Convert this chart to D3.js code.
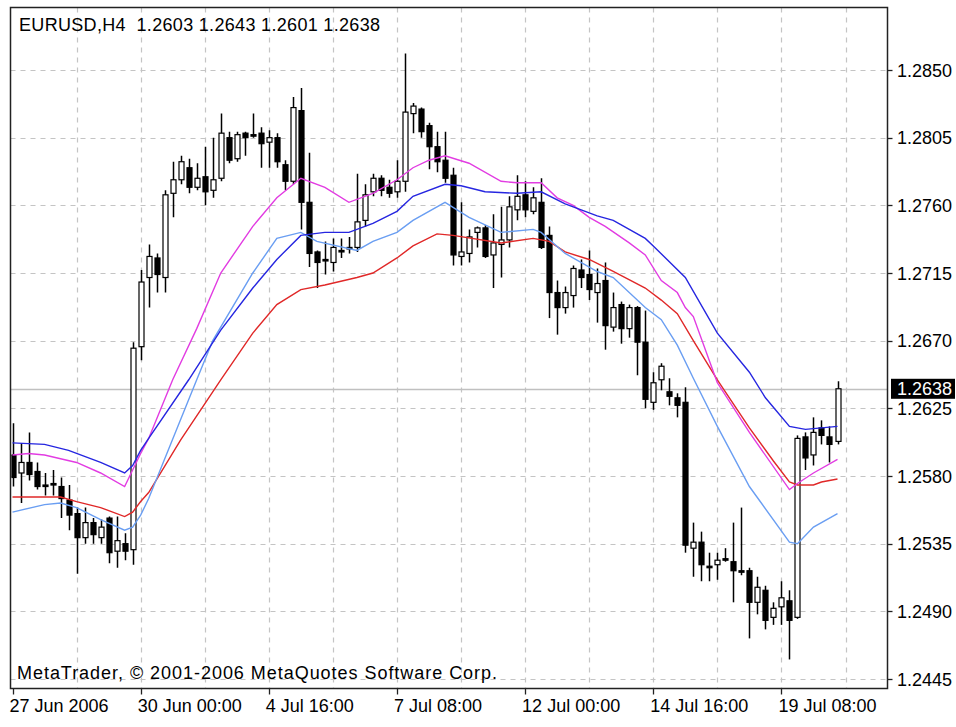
<!DOCTYPE html>
<html><head><meta charset="utf-8">
<script src="https://cdn.jsdelivr.net/npm/d3@7"></script>
<style>
html,body{margin:0;padding:0;background:#fff;}
svg{display:block;}
text{font-family:"Liberation Sans",Arial,sans-serif;font-size:18px;fill:#000;}
</style>
</head><body>
<svg id="chart" width="956" height="727"></svg>
<script>
// ---------------- DATA ----------------
const titleSymbol = "EURUSD,H4";
const copyrightText = "MetaTrader, \u00A9 2001-2006 MetaQuotes Software Corp.";

const barOpen = [1.2594,1.2582,1.2589,1.2583,1.2574,1.2575,1.2573,1.2564,1.2555,1.2539,1.2549,1.2539,1.2552,1.2530,1.2535,1.2531,
1.2666,1.2712,1.2725,1.2712,1.2768,1.2777,1.2785,1.2772,1.2779,1.2770,1.2778,1.2805,1.2791,1.2808,1.2807,1.2808,
1.2802,1.2805,1.2787,1.2776,1.2823,1.2762,1.2729,1.2724,1.2722,1.2730,1.2732,1.2732,1.2750,1.2769,1.2778,1.2772,
1.2769,1.2776,1.2821,1.2824,1.2813,1.2799,1.2790,1.2780,1.2726,1.2728,1.2742,1.2745,1.2727,1.2734,1.2737,1.2757,
1.2767,1.2756,1.2762,1.2740,1.2702,1.2692,1.2700,1.2717,1.2714,1.2702,1.2710,1.2679,1.2694,1.2678,1.2692,1.2669,
1.2629,1.2644,1.2636,1.2632,1.2629,1.2532,1.2536,1.2520,1.2521,1.2525,1.2523,1.2517,1.2517,1.2496,1.2504,1.2486,
1.2493,1.2497,1.2486,1.2606,1.2594,1.2612,1.2606,1.2603];
const barHigh = [1.2615,1.2602,1.2609,1.2589,1.2582,1.2584,1.2579,1.2574,1.2559,1.2559,1.2552,1.2551,1.2553,1.2553,1.2542,1.2669,
1.2717,1.2734,1.2728,1.2770,1.2789,1.2793,1.2791,1.2788,1.2799,1.2805,1.2821,1.2809,1.2809,1.2809,1.2821,1.2812,
1.2810,1.2808,1.2790,1.2832,1.2838,1.2795,1.2730,1.2736,1.2738,1.2738,1.2739,1.2781,1.2774,1.2781,1.2780,1.2777,
1.2790,1.2861,1.2828,1.2825,1.2815,1.2809,1.2809,1.2785,1.2762,1.2744,1.2746,1.2747,1.2754,1.2759,1.2766,1.2780,
1.2776,1.2772,1.2778,1.2746,1.2710,1.2706,1.2720,1.2724,1.2730,1.2718,1.2722,1.2702,1.2696,1.2694,1.2693,1.2690,
1.2649,1.2655,1.2645,1.2635,1.2639,1.2549,1.2543,1.2529,1.2529,1.2532,1.2549,1.2559,1.2519,1.2513,1.2507,1.2496,
1.2510,1.2504,1.2607,1.2609,1.2619,1.2617,1.2613,1.2643];
const barLow = [1.2573,1.2562,1.2577,1.2571,1.2567,1.2567,1.2552,1.2544,1.2515,1.2535,1.2535,1.2535,1.2522,1.2519,1.2524,1.2521,
1.2657,1.2692,1.2702,1.2702,1.2752,1.2774,1.2768,1.2770,1.2760,1.2765,1.2776,1.2788,1.2789,1.2793,1.2805,1.2785,
1.2785,1.2785,1.2770,1.2774,1.2744,1.2719,1.2705,1.2714,1.2716,1.2725,1.2728,1.2729,1.2746,1.2766,1.2766,1.2765,
1.2765,1.2769,1.2808,1.2805,1.2784,1.2782,1.2775,1.2720,1.2720,1.2722,1.2732,1.2725,1.2705,1.2712,1.2732,1.2750,
1.2752,1.2754,1.2731,1.2685,1.2674,1.2688,1.2692,1.2705,1.2697,1.2682,1.2664,1.2676,1.2668,1.2672,1.2647,1.2625,
1.2624,1.2637,1.2627,1.2619,1.2529,1.2513,1.2510,1.2510,1.2511,1.2523,1.2496,1.2514,1.2472,1.2488,1.2478,1.2481,
1.2481,1.2458,1.2485,1.2584,1.2587,1.2601,1.2589,1.2601];
const barClose = [1.2579,1.2589,1.2581,1.2573,1.2573,1.2574,1.2565,1.2554,1.2539,1.2549,1.2541,1.2546,1.2529,1.2537,1.2530,1.2665,
1.2709,1.2726,1.2714,1.2767,1.2777,1.2789,1.2772,1.2778,1.2769,1.2777,1.2808,1.2790,1.2807,1.2805,1.2806,1.2801,
1.2805,1.2789,1.2776,1.2825,1.2762,1.2728,1.2722,1.2723,1.2732,1.2729,1.2731,1.2749,1.2767,1.2778,1.2770,1.2768,
1.2776,1.2822,1.2826,1.2809,1.2799,1.2789,1.2778,1.2727,1.2729,1.2739,1.2745,1.2726,1.2735,1.2737,1.2759,1.2766,
1.2757,1.2765,1.2732,1.2702,1.2692,1.2702,1.2718,1.2712,1.2704,1.2708,1.2680,1.2692,1.2678,1.2692,1.2669,1.2631,
1.2642,1.2653,1.2633,1.2627,1.2534,1.2536,1.2521,1.2519,1.2524,1.2524,1.2517,1.2516,1.2496,1.2506,1.2484,1.2492,
1.2499,1.2484,1.2605,1.2592,1.2609,1.2607,1.2601,1.2638];

// moving averages: [bar index, price]
const maBlue = [[0,1.2602],[4,1.2601],[7,1.2597],[11,1.2589],[14,1.2582],[15,1.2587],[16,1.2597],[17,1.2605],[22,1.2644],[26,1.2677],[30,1.2705],[33,1.2724],[36,1.2740],[39,1.2742],[42,1.2742],[45,1.2748],[48,1.2756],[50,1.2766],[54,1.2774],[56,1.2773],[59,1.2769],[63,1.2768],[66,1.2769],[69,1.2761],[73,1.2753],[75,1.2750],[79,1.2738],[80,1.2733],[84,1.2712],[88,1.2675],[92,1.2649],[94,1.2632],[97,1.2613],[99,1.2611],[103,1.2613]];
const maMagenta = [[0,1.2594],[2,1.2595],[4,1.2594],[8,1.2589],[11,1.2582],[14,1.2573],[15,1.2584],[16,1.2595],[17,1.2605],[20,1.2644],[23,1.2678],[26,1.2715],[30,1.2746],[33,1.2765],[36,1.2778],[39,1.2772],[42,1.2762],[45,1.2768],[48,1.2777],[50,1.2785],[52,1.2790],[54,1.2793],[57,1.2788],[61,1.2776],[63,1.2775],[66,1.2775],[68,1.2765],[70,1.2760],[72,1.2752],[74,1.2746],[77,1.2735],[79,1.2727],[81,1.2710],[83,1.2702],[84,1.2692],[85,1.2686],[88,1.2642],[92,1.2609],[97,1.2571],[98,1.2575],[100,1.2582],[103,1.2591]];
const maLightBlue = [[0,1.2556],[4,1.2561],[6,1.2562],[8,1.2559],[11,1.2551],[14,1.2544],[15,1.2546],[16,1.2554],[17,1.2565],[23,1.2644],[25,1.2670],[30,1.2715],[33,1.2738],[36,1.2742],[38,1.2736],[43,1.2730],[45,1.2736],[48,1.2742],[50,1.2750],[54,1.2762],[57,1.2752],[61,1.2742],[65,1.2744],[66,1.2742],[69,1.2728],[73,1.2716],[75,1.2712],[79,1.2692],[81,1.2684],[83,1.2667],[85,1.2645],[88,1.2613],[92,1.2573],[97,1.2536],[98,1.2535],[100,1.2546],[103,1.2555]];
const maRed = [[0,1.2566],[2,1.2566],[6,1.2566],[8,1.2563],[11,1.2559],[14,1.2553],[15,1.2556],[16,1.2563],[17,1.2569],[21,1.2604],[26,1.2644],[30,1.2675],[33,1.2694],[36,1.2704],[39,1.2707],[43,1.2712],[45,1.2715],[48,1.2725],[50,1.2733],[53,1.2741],[55,1.2740],[61,1.2735],[65,1.2738],[67,1.2736],[69,1.2729],[72,1.2724],[75,1.2716],[79,1.2705],[81,1.2697],[83,1.2688],[85,1.2670],[88,1.2644],[92,1.2612],[95,1.2590],[97,1.2576],[98,1.2574],[100,1.2574],[101,1.2576],[103,1.2578]];

const priceTicks = [1.2445,1.2490,1.2535,1.2580,1.2625,1.2670,1.2715,1.2760,1.2805,1.2850];
const timeLabels = ["27 Jun 2006","30 Jun 00:00","4 Jul 16:00","7 Jul 08:00","12 Jul 00:00","14 Jul 16:00","19 Jul 08:00"];
const timeLabelBars = [0,16,32,48,64,80,96];
const gridBars = [8,16,24,32,40,48,56,64,72,80,88,96,104];

// ---------------- DRAW ----------------
const svg = d3.select("#chart");
const L = 10.5, T = 7.5, R = 887.5, B = 688.5;
const x = d3.scaleLinear().domain([0, 103]).range([12.5, 837.5]);
const y = d3.scaleLinear().domain([1.2445, 1.2850]).range([679, 70]);
const fmt = d3.format(".4f");
const px = v => Math.round(v) + 0.5;

svg.append("rect").attr("width",956).attr("height",727).attr("fill","#fff");

svg.append("defs").append("clipPath").attr("id","plot")
  .append("rect").attr("x",L+1).attr("y",T+1).attr("width",R-L-1.5).attr("height",B-T-1.5);

const grid = svg.append("g").attr("stroke","#c4c4c4").attr("stroke-width",1.2).attr("stroke-dasharray","5,5");
grid.selectAll("line.h").data(priceTicks).join("line")
  .attr("x1",L).attr("x2",R).attr("y1",d=>px(y(d))).attr("y2",d=>px(y(d)));
grid.selectAll("line.v").data(gridBars).join("line")
  .attr("x1",d=>px(x(d))).attr("x2",d=>px(x(d))).attr("y1",T).attr("y2",B);

// last price line
svg.append("line").attr("x1",L).attr("x2",R).attr("y1",px(y(barClose[barClose.length-1]))).attr("y2",px(y(barClose[barClose.length-1])))
  .attr("stroke","#c0c0c0").attr("stroke-width",1.3);

// candles
const bars = d3.range(barOpen.length).map(i => ({i, o:barOpen[i], h:barHigh[i], l:barLow[i], c:barClose[i]}));
const cg = svg.append("g").attr("clip-path","url(#plot)");
cg.selectAll("line.wick").data(bars).join("line")
  .attr("x1",d=>px(x(d.i))).attr("x2",d=>px(x(d.i)))
  .attr("y1",d=>y(d.h)).attr("y2",d=>y(d.l))
  .attr("stroke","#000").attr("stroke-width",1.5);
cg.selectAll("rect.body").data(bars).join("rect")
  .attr("x",d=>px(x(d.i))-2.5).attr("width",5)
  .attr("y",d=>y(Math.max(d.o,d.c)))
  .attr("height",d=>Math.max(1, y(Math.min(d.o,d.c)) - y(Math.max(d.o,d.c))))
  .attr("fill",d=>d.c>d.o?"#fff":"#000")
  .attr("stroke","#000").attr("stroke-width",1.2);

// moving averages
const line = d3.line().x(d=>x(d[0])).y(d=>y(d[1]));
const mg = svg.append("g").attr("clip-path","url(#plot)").attr("fill","none").attr("stroke-width",1.4);
[[maRed,"#e02828"],[maLightBlue,"#6a9ef2"],[maMagenta,"#e23ce2"],[maBlue,"#2626e0"]].forEach(([d,c])=>{
  mg.append("path").attr("d",line(d)).attr("stroke",c);
});

// frame
svg.append("rect").attr("x",L).attr("y",T).attr("width",R-L).attr("height",B-T)
  .attr("fill","none").attr("stroke","#222").attr("stroke-width",1.5);

// right axis
const ra = svg.append("g");
ra.selectAll("line").data(priceTicks).join("line")
  .attr("x1",R).attr("x2",R+5).attr("y1",d=>px(y(d))).attr("y2",d=>px(y(d)))
  .attr("stroke","#222").attr("stroke-width",1.3);
ra.selectAll("text").data(priceTicks).join("text")
  .attr("x",897).attr("y",d=>y(d)+6.5).text(d=>fmt(d));

// last price label
const lp = barClose[barClose.length-1];
svg.append("rect").attr("x",891).attr("y",y(lp)-10).attr("width",64).attr("height",20).attr("fill","#000");
svg.append("text").attr("x",897).attr("y",y(lp)+6.5).style("fill","#fff").text(fmt(lp));

// bottom axis
const ba = svg.append("g");
ba.selectAll("line").data(timeLabelBars).join("line")
  .attr("x1",d=>px(x(d))).attr("x2",d=>px(x(d))).attr("y1",B).attr("y2",B+6)
  .attr("stroke","#222").attr("stroke-width",1.3);
ba.selectAll("text").data(timeLabelBars).join("text")
  .attr("x",d=>x(d)-3).attr("y",712).text((d,k)=>timeLabels[k]);

// title
const last = bars[bars.length-1];
svg.append("text").attr("x",19).attr("y",31).style("white-space","pre").attr("xml:space","preserve")
  .attr("textLength",361).attr("lengthAdjust","spacing")
  .text(`${titleSymbol}  ${fmt(last.o)} ${fmt(last.h)} ${fmt(last.l)} ${fmt(last.c)}`);

// copyright
svg.append("text").attr("x",17).attr("y",679).attr("textLength",480).attr("lengthAdjust","spacing").text(copyrightText);
</script>
</body></html>
